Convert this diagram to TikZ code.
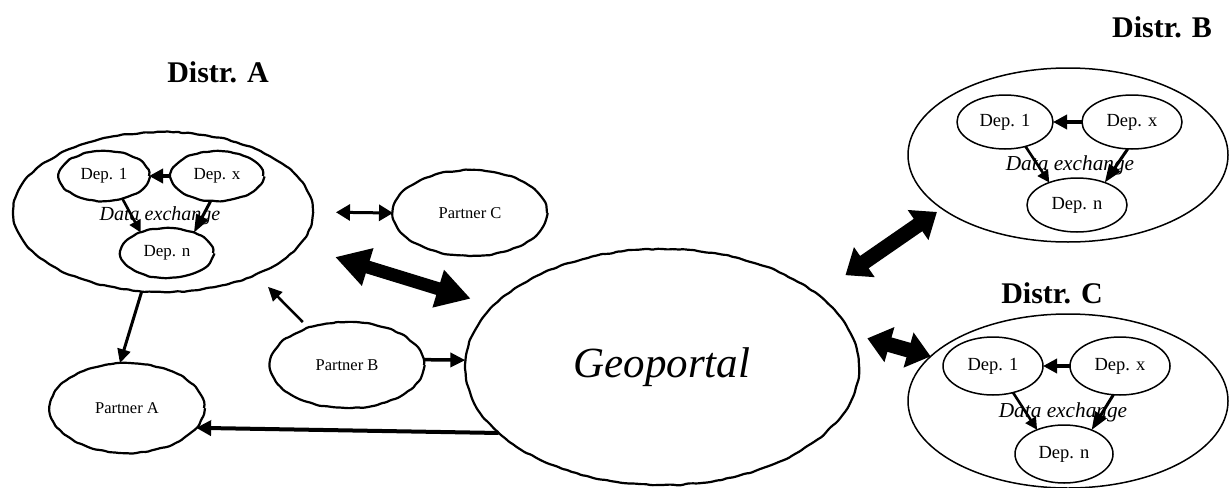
\documentclass[tikz,border=0pt]{standalone}
\usepackage{fontspec}
\setmainfont{Liberation Serif}
\usetikzlibrary{shapes.geometric,arrows.meta,decorations.pathmorphing}
\begin{document}
\begin{tikzpicture}[x=1pt,y=-1pt,
  wob/.style={draw, ellipse, line width=2.2pt, inner sep=0pt, outer sep=0pt,
    decorate, decoration={random steps,segment length=5pt,amplitude=0.7pt}, rounded corners=1.5pt},
  smo/.style={draw, ellipse, line width=1.5pt, inner sep=0pt, outer sep=0pt},
  fA/.style={font=\fontsize{17}{20}\selectfont},
  fB/.style={font=\fontsize{18.5}{22}\selectfont},
  fP/.style={font=\fontsize{16.5}{20}\selectfont},
  dataA/.style={font=\fontsize{20}{24}\selectfont\itshape},
  dataB/.style={font=\fontsize{21.3}{25}\selectfont\itshape},
  distr/.style={font=\fontsize{30}{34}\selectfont\bfseries},
  hx/.style={line width=4pt, -{Triangle[length=14pt,width=14pt]}},
  dn/.style={line width=2.6pt, -{Triangle[length=12pt,width=12pt]}},
  xn/.style={line width=3pt, -{Triangle[length=18pt,width=13pt]}},
  sarr/.style={line width=3pt, -{Triangle[length=14pt,width=13pt]}},
  dbl/.style={line width=3pt, {Triangle[length=14pt,width=16pt]}-{Triangle[length=14pt,width=16pt]}},
  bigA/.style={line width=13pt, {Triangle[length=34pt,width=37pt]}-{Triangle[length=34pt,width=37pt]}},
  bigB/.style={line width=15pt, {Triangle[length=23pt,width=35pt]}-{Triangle[length=23pt,width=35pt]}}
]
\pgfmathsetseed{7}
\useasboundingbox (0,0) rectangle (1230,487);

% Distr. A
\node[distr] (labA) at (218,72) {Distr. A};
\node[wob, minimum width=300pt, minimum height=160pt] (distA) at (163,212) {};
\node[wob, fA, minimum width=90pt, minimum height=50pt] (dep1A) at (104,176) {Dep. 1};
\node[wob, fA, minimum width=92pt, minimum height=50pt] (depxA) at (217,176) {Dep. x};
\node[wob, fA, minimum width=92pt, minimum height=50pt] (depnA) at (167,253) {Dep. n};
\node[dataA] (exA) at (160,216) {Data exchange};

% partners and geoportal
\node[wob, fP, minimum width=154pt, minimum height=86pt] (pC) at (470,213) {Partner C};
\node[wob, fP, minimum width=154pt, minimum height=86pt] (pB) at (347,365) {Partner B};
\node[wob, fP, minimum width=154pt, minimum height=90pt] (pA) at (127,408) {Partner A};
\node[wob, minimum width=394pt, minimum height=236pt, font=\fontsize{43}{48}\selectfont\itshape] (geo) at (662,367) {Geoportal};

% Distr. B
\node[distr] (labB) at (1162,27) {Distr. B};
\node[smo, minimum width=320pt, minimum height=174pt] (distB) at (1068,155) {};
\node[smo, fB, minimum width=96pt, minimum height=54pt] (dep1B) at (1005,122) {Dep. 1};
\node[smo, fB, minimum width=100pt, minimum height=54pt] (depxB) at (1132,122) {Dep. x};
\node[smo, fB, minimum width=100pt, minimum height=54pt] (depnB) at (1077,205) {Dep. n};
\node[dataB] (exB) at (1070,165) {Data exchange};

% Distr. C
\node[distr] (labC) at (1052,293) {Distr. C};
\node[smo, minimum width=320pt, minimum height=174pt] (distC) at (1068,401) {};
\node[smo, fB, minimum width=100pt, minimum height=58pt] (dep1C) at (993,366) {Dep. 1};
\node[smo, fB, minimum width=100pt, minimum height=58pt] (depxC) at (1120,366) {Dep. x};
\node[smo, fB, minimum width=98pt, minimum height=58pt] (depnC) at (1064,454) {Dep. n};
\node[dataB] (exC) at (1063,412) {Data exchange};

% inner arrows A
\draw[hx] (depxA) -- (dep1A);
\draw[dn] (dep1A.-51) -- (depnA.142);
\draw[xn] (depxA.-104.5) -- (depnA.37);
% inner arrows B
\draw[hx] (depxB) -- (dep1B);
\draw[dn] (dep1B.-50) -- (depnB.141);
\draw[xn] (depxB.-99.5) -- (depnB.39);
% inner arrows C
\draw[hx] (depxC) -- (dep1C);
\draw[dn] (dep1C.-53) -- (depnC.138);
\draw[xn] (depxC.-103.6) -- (depnC.41.6);

% connectors
\draw[dbl, shorten <=23pt] (distA.0) -- (pC.180);
\draw[bigA, shorten <=38pt, shorten >=24pt] (distA.-14) -- (geo.160);
\draw[sarr] (distA.-105.5) -- (pA.99.7);
\draw[sarr, line width=2.5pt, shorten <=8pt, shorten >=17pt] (pB.136) -- (distA.-34.3);
\draw[sarr, line width=3.5pt, -{Triangle[length=15pt,width=14pt]}] (pB.4) -- (geo.178);
\draw[sarr, line width=4pt, -{Triangle[length=15pt,width=15pt]}] (geo.-158.7) -- (pA.-16.7);
\draw[bigB, shorten <=34pt, shorten >=6pt] (geo.25) -- (distB.-157.5);
\draw[bigB, shorten <=17pt] (geo.10.8) -- (distC.162);
\end{tikzpicture}
\end{document}
